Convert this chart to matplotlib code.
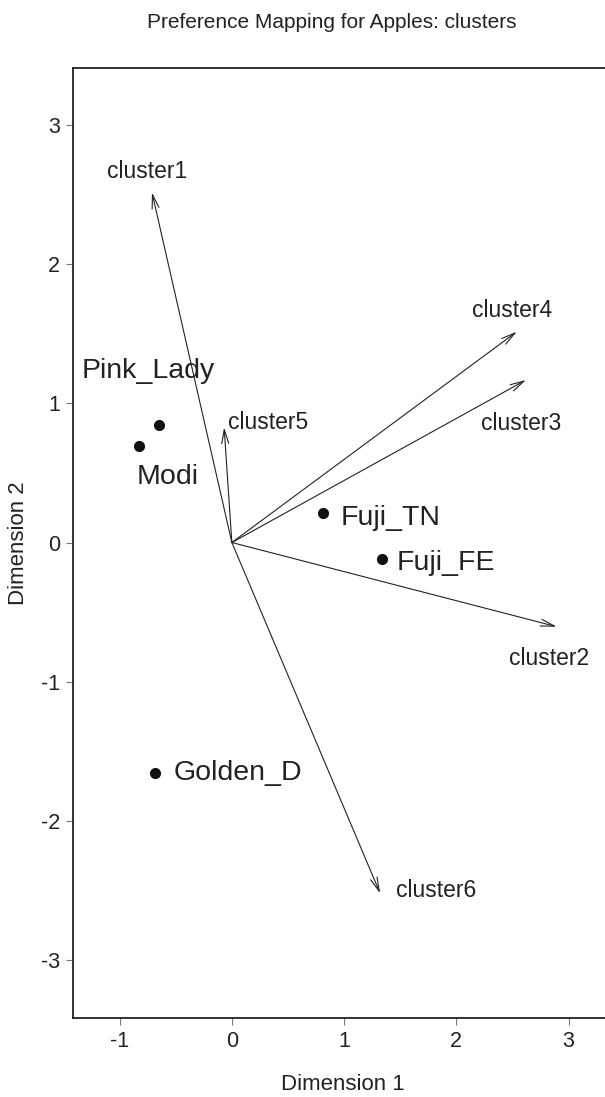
import numpy as np
import matplotlib
matplotlib.use("Agg")
import matplotlib.pyplot as plt

plt.rcParams['font.family'] = ['Liberation Sans', 'DejaVu Sans']
plt.rcParams['axes.unicode_minus'] = False

# produits (points)
products = ['Pink_Lady', 'Modi', 'Fuji_TN', 'Fuji_FE', 'Golden_D']
prod_x = [-0.647, -0.823, 0.816, 1.336, -0.683]
prod_y = [0.844, 0.696, 0.210, -0.119, -1.654]

# clusters (fleches depuis l'origine)
clusters = ['cluster1', 'cluster2', 'cluster3', 'cluster4', 'cluster5', 'cluster6']
clus_x = [-0.712, 2.894, 2.62, 2.538, -0.069, 1.321]
clus_y = [2.516, -0.605, 1.168, 1.515, 0.828, -2.521]

x_ticks = [-1, 0, 1, 2, 3]
y_ticks = [-3, -2, -1, 0, 1, 2, 3]

txt_color = '#222222'

fig = plt.figure(figsize=(6.05, 10.97), dpi=100)
ax = fig.add_axes([72.7 / 605, 1 - 1018.3 / 1097, (613.5 - 72.7) / 605, (1018.3 - 68) / 1097])

ax.set_xlim(-1.418, 3.40)
ax.set_ylim(-3.419, 3.41)

# fleches des clusters
for cx, cy in zip(clus_x, clus_y):
    ax.annotate('', xy=(cx, cy), xytext=(0, 0),
                arrowprops=dict(arrowstyle='->,head_length=1.0,head_width=0.25',
                                lw=0.8, color='#222222', shrinkA=0, shrinkB=0,
                                mutation_scale=10))

# positions des etiquettes (decalage en pixels, comme dans l'original)
clus_off = [(-5, 20.6, 'center'), (-7.7, -31.6, 'center'), (-5, -44, 'center'),
            (-5, 21, 'center'), (3.7, 4.6, 'left'), (15.7, 3.3, 'left')]
for name, cx, cy, (dx, dy, ha) in zip(clusters, clus_x, clus_y, clus_off):
    ax.annotate(name, xy=(cx, cy), xytext=(dx * 0.72, dy * 0.72),
                textcoords='offset points', ha=ha, va='center',
                fontsize=16.5, color=txt_color)

# points produits
ax.plot(prod_x, prod_y, 'o', color='#111111', markersize=7, linestyle='none')

prod_off = [(-11, 54, 'center'), (28.4, -31.6, 'center'), (17.4, -5, 'left'),
            (15, -4.3, 'left'), (18.3, 0, 'left')]
for name, px, py, (dx, dy, ha) in zip(products, prod_x, prod_y, prod_off):
    ax.annotate(name, xy=(px, py), xytext=(dx * 0.72, dy * 0.72),
                textcoords='offset points', ha=ha, va='center',
                fontsize=20.5, color=txt_color)

ax.set_xticks(x_ticks)
ax.set_yticks(y_ticks)
ax.tick_params(direction='out', length=5, width=0.8, color='#777777',
               labelsize=15.5, labelcolor=txt_color, pad=4)
for side in ['left', 'bottom', 'top', 'right']:
    ax.spines[side].set_linewidth(1.2)
    ax.spines[side].set_color('#111111')

fig.text(332 / 605, 1 - 22 / 1097, 'Preference Mapping for Apples: clusters',
         ha='center', va='center', fontsize=15, color=txt_color)
fig.text(343 / 605, 1 - 1084 / 1097, 'Dimension 1', ha='center', va='center',
         fontsize=16, color=txt_color)
fig.text(19 / 605, 1 - 543 / 1097, 'Dimension 2', ha='center', va='center',
         rotation=90, fontsize=16, color=txt_color)

fig.savefig('out.png', dpi=100)
